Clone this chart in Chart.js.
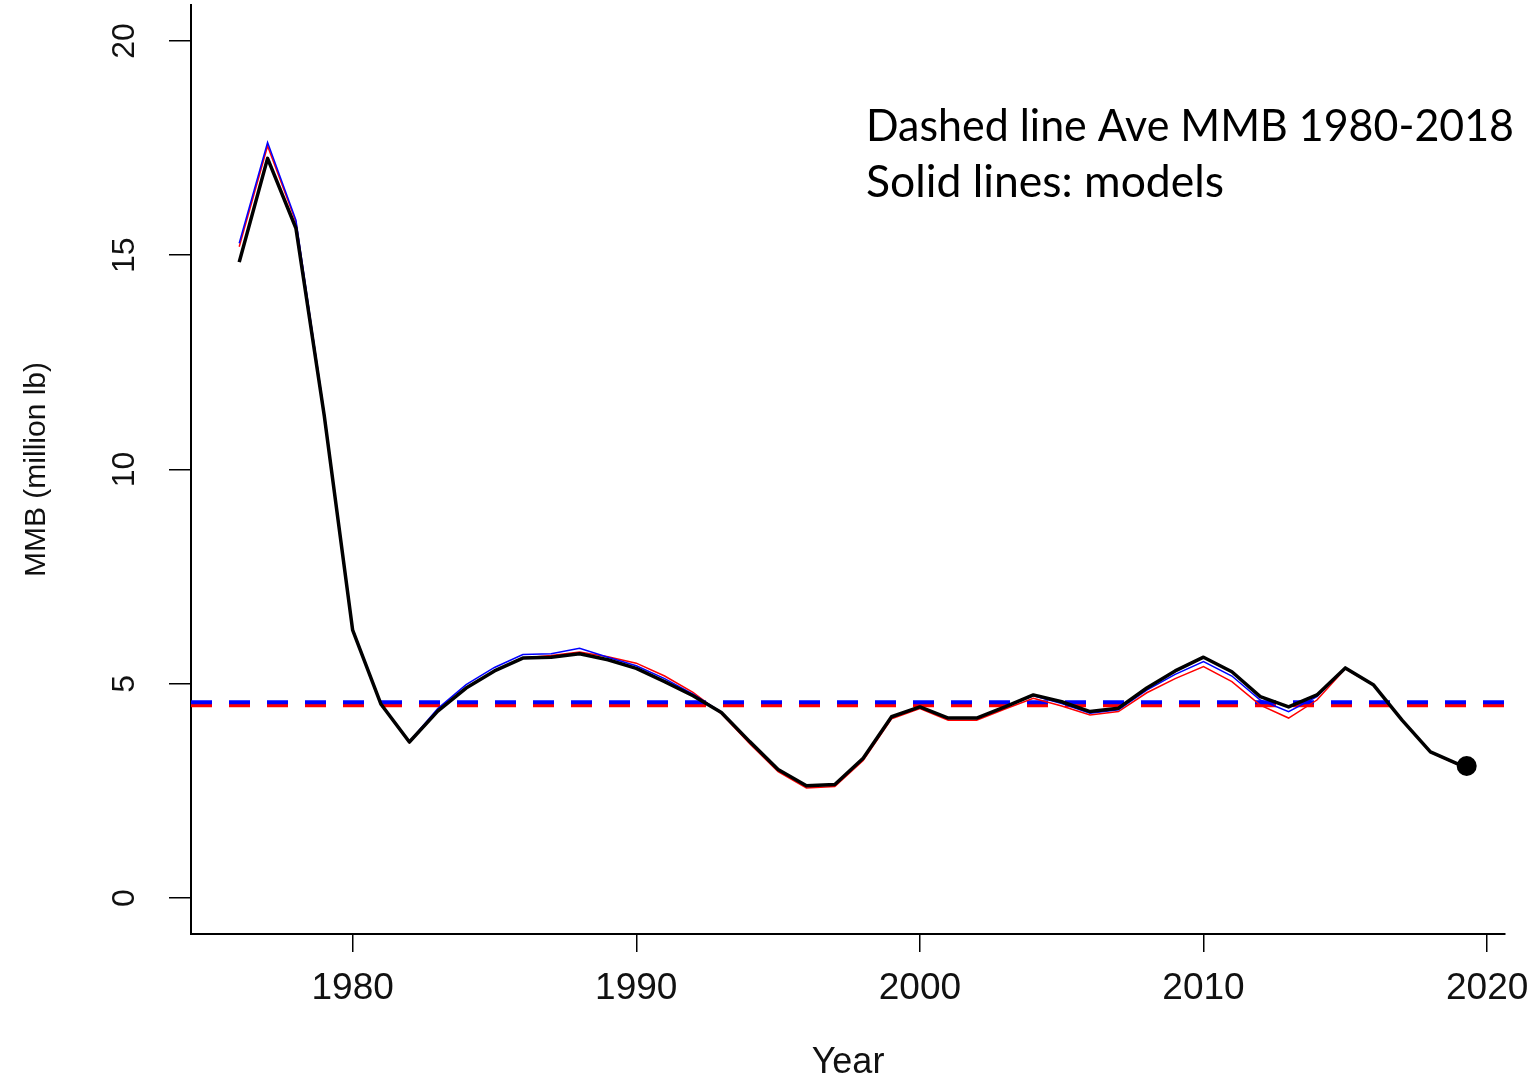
<!DOCTYPE html>
<html>
<head>
<meta charset="utf-8">
<title>MMB</title>
<script src="https://cdn.jsdelivr.net/npm/chart.js@4/dist/chart.umd.min.js"></script>
<style>
  html, body { margin: 0; padding: 0; background: #fff; }
  canvas { display: block; }
</style>
</head>
<body>
<canvas id="myChart" width="1537" height="1081"></canvas>
<script>
// Years of the model runs
const years = [
  1976, 1977, 1978, 1979, 1980, 1981, 1982, 1983, 1984, 1985,
  1986, 1987, 1988, 1989, 1990, 1991, 1992, 1993, 1994, 1995,
  1996, 1997, 1998, 1999, 2000, 2001, 2002, 2003, 2004, 2005,
  2006, 2007, 2008, 2009, 2010, 2011, 2012, 2013, 2014, 2015,
  2016, 2017, 2018, 2019
];

// MMB (million lb) for each model
const blackModel = [
  14.84, 17.26, 15.63, 11.25, 6.25, 4.52, 3.64, 4.36, 4.9, 5.3,
  5.6, 5.62, 5.7, 5.56, 5.36, 5.05, 4.72, 4.33, 3.65, 3.0,
  2.62, 2.65, 3.26, 4.23, 4.46, 4.2, 4.2, 4.46, 4.74, 4.58,
  4.35, 4.43, 4.9, 5.3, 5.62, 5.28, 4.7, 4.46, 4.74, 5.37,
  4.97, 4.15, 3.41, 3.12
];
const blueModel = [
  15.28, 17.63, 15.82, 11.3, 6.28, 4.54, 3.65, 4.42, 4.98, 5.38,
  5.68, 5.7, 5.83, 5.62, 5.42, 5.12, 4.76, 4.34, 3.65, 3.0,
  2.62, 2.65, 3.26, 4.23, 4.46, 4.2, 4.2, 4.46, 4.72, 4.54,
  4.31, 4.39, 4.85, 5.22, 5.52, 5.18, 4.62, 4.35, 4.7, 5.37,
  4.97, 4.15, 3.41, 3.12
];
const redModel = [
  15.2, 17.55, 15.78, 11.28, 6.26, 4.52, 3.62, 4.36, 4.9, 5.3,
  5.6, 5.66, 5.74, 5.63, 5.48, 5.18, 4.8, 4.3, 3.6, 2.95,
  2.57, 2.6, 3.21, 4.18, 4.42, 4.15, 4.15, 4.41, 4.66, 4.48,
  4.27, 4.35, 4.79, 5.12, 5.4, 5.05, 4.5, 4.2, 4.62, 5.35,
  4.96, 4.14, 3.4, 3.1
];

// Average MMB 1980-2018 (dashed lines)
const blueAve = 4.57;
const redAve = 4.5;

// Latest point (dot)
const dotYear = 2019.28;
const dotValue = 3.08;

// Axes
const xMin = 1974.3;
const xMax = 2020.63;
const yMin = -0.84;
const yMax = 20.84;
const xTicks = [1980, 1990, 2000, 2010, 2020];
const yTicks = [0, 5, 10, 15, 20];

const noteLines = ['Dashed line Ave MMB 1980-2018', 'Solid lines: models'];

function toPoints(values) {
  return years.map((year, i) => ({ x: year, y: values[i] }));
}

// Text note in the upper right
const notePlugin = {
  id: 'note',
  afterDraw(chart) {
    const c = chart.ctx;
    c.save();
    c.fillStyle = '#000';
    c.font = '44.5px Lato';
    c.textBaseline = 'alphabetic';
    c.textAlign = 'left';
    c.fillText(noteLines[0], 866, 141, 648);
    c.fillText(noteLines[1], 866, 197, 362);
    c.restore();
  }
};

const ctx = document.getElementById('myChart').getContext('2d');
const chart = new Chart(ctx, {
  type: 'line',
  data: {
    datasets: [
      {
        data: [{ x: dotYear, y: dotValue }],
        showLine: false,
        pointRadius: 10,
        pointBackgroundColor: '#000',
        pointBorderColor: '#000',
        pointBorderWidth: 0,
        order: 0
      },
      {
        data: toPoints(blackModel),
        borderColor: '#000',
        borderWidth: 3.5,
        pointRadius: 0,
        borderJoinStyle: 'round',
        order: 1
      },
      {
        data: toPoints(blueModel),
        borderColor: '#0000ff',
        borderWidth: 1.5,
        pointRadius: 0,
        order: 2
      },
      {
        data: toPoints(redModel),
        borderColor: '#ff0000',
        borderWidth: 1.5,
        pointRadius: 0,
        order: 3
      },
      {
        data: [{ x: xMin, y: blueAve }, { x: xMax, y: blueAve }],
        borderColor: '#0000ff',
        borderWidth: 4,
        borderDash: [21, 17],
        pointRadius: 0,
        order: 4
      },
      {
        data: [{ x: xMin, y: redAve }, { x: xMax, y: redAve }],
        borderColor: '#ff0000',
        borderWidth: 4,
        borderDash: [21, 17],
        pointRadius: 0,
        order: 5
      }
    ]
  },
  options: {
    responsive: false,
    animation: false,
    devicePixelRatio: 1,
    layout: {
      autoPadding: false,
      padding: { top: 5, right: 32, left: 0, bottom: 0 }
    },
    plugins: {
      legend: { display: false },
      tooltip: { enabled: false }
    },
    elements: { line: { tension: 0 } },
    scales: {
      x: {
        type: 'linear',
        min: xMin,
        max: xMax,
        afterBuildTicks: scale => {
          scale.ticks = xTicks.map(v => ({ value: v }));
        },
        afterFit: scale => {
          scale.height = 147;
          scale.paddingLeft = 0;
          scale.paddingRight = 0;
        },
        border: { display: true, color: '#000', width: 2 },
        grid: {
          display: true,
          drawOnChartArea: false,
          drawTicks: true,
          tickLength: 18,
          color: '#000',
          lineWidth: 1.5
        },
        ticks: {
          autoSkip: false,
          maxRotation: 0,
          padding: 15,
          color: '#111',
          font: { family: 'Liberation Sans', size: 37 },
          callback: v => String(v)
        },
        title: {
          display: true,
          text: 'Year',
          color: '#111',
          font: { family: 'Liberation Sans', size: 36 },
          padding: { top: 0, bottom: -4 }
        }
      },
      y: {
        type: 'linear',
        min: yMin,
        max: yMax,
        afterBuildTicks: scale => {
          scale.ticks = yTicks.map(v => ({ value: v }));
        },
        afterFit: scale => {
          scale.width = 191;
          scale.paddingTop = 0;
          scale.paddingBottom = 0;
        },
        border: { display: true, color: '#000', width: 2 },
        grid: {
          display: true,
          drawOnChartArea: false,
          drawTicks: true,
          tickLength: 22,
          color: '#000',
          lineWidth: 1.5
        },
        ticks: {
          autoSkip: false,
          minRotation: 90,
          maxRotation: 90,
          crossAlign: 'center',
          padding: 26,
          color: '#111',
          font: { family: 'Liberation Sans', size: 32 },
          callback: v => String(v)
        },
        title: {
          display: true,
          text: 'MMB (million lb)',
          color: '#111',
          font: { family: 'Liberation Sans', size: 30 },
          padding: { top: 19, bottom: 0 }
        }
      }
    }
  },
  plugins: [notePlugin]
});
</script>
</body>
</html>
